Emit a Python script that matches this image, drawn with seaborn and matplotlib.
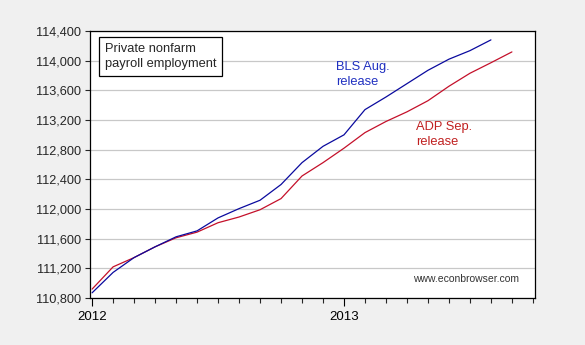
import matplotlib
matplotlib.use("Agg")
import matplotlib.pyplot as plt
import seaborn as sns
import pandas as pd
from matplotlib.ticker import FuncFormatter, FixedLocator

# ---- data (thousands, private nonfarm payroll employment) ----
months = pd.date_range("2012-01-01", "2013-10-01", freq="MS")
bls_aug = [110870, 111145, 111345, 111490, 111625, 111705, 111880, 112005,
           112118, 112330, 112625, 112845, 113000, 113340, 113510, 113690,
           113870, 114020, 114135, 114280]
adp_sep = [110920, 111220, 111345, 111490, 111612, 111688, 111815, 111892,
           111990, 112140, 112445, 112625, 112820, 113030, 113180, 113310,
           113460, 113655, 113830, 113972, 114118]
year_labels = ["2012", "2013"]
yticks = [110800, 111200, 111600, 112000, 112400, 112800, 113200, 113600, 114000, 114400]

rows = []
for i, v in enumerate(bls_aug):
    rows.append({"t": i, "month": months[i], "value": v, "series": "BLS Aug. release"})
for i, v in enumerate(adp_sep):
    rows.append({"t": i, "month": months[i], "value": v, "series": "ADP Sep. release"})
df = pd.DataFrame(rows)

sns.set_style("ticks")
plt.rcParams["font.family"] = ["Liberation Sans", "DejaVu Sans"]

fig = plt.figure(figsize=(5.85, 3.45), dpi=100)
fig.patch.set_facecolor("#F0F0F0")
ax = fig.add_axes([90 / 585, 1 - 298 / 345, 445 / 585, 267 / 345])
ax.set_facecolor("white")

blue = "#0A0A9E"
red = "#C4102A"
sns.lineplot(data=df, x="t", y="value", hue="series",
             palette={"BLS Aug. release": blue, "ADP Sep. release": red},
             hue_order=["ADP Sep. release", "BLS Aug. release"],
             linewidth=0.9, legend=False, ax=ax)

ax.set_xlim(-0.1, 21.1)
ax.set_ylim(110800, 114400)
ax.set_yticks(yticks)
ax.yaxis.set_major_formatter(FuncFormatter(lambda v, p: f"{int(v):,}"))
ax.yaxis.grid(True, color="#C8C8C8", linewidth=0.9)
ax.set_axisbelow(True)

ax.xaxis.set_major_locator(FixedLocator([0, 12]))
ax.set_xticklabels(year_labels)
ax.xaxis.set_minor_locator(FixedLocator([i for i in range(22) if i not in (0, 12)]))
ax.tick_params(axis="x", which="major", length=5.5, width=0.8, pad=3.5, labelsize=9.5, colors="black")
ax.tick_params(axis="x", which="minor", length=3.5, width=0.8)
ax.tick_params(axis="y", length=3.6, width=0.8, pad=3, labelsize=9.2)
ax.set_xlabel("")
ax.set_ylabel("")
for s in ax.spines.values():
    s.set_visible(True)
    s.set_color("black")
    s.set_linewidth(0.9)

ax.text((105 - 90) / 445, (298 - 43) / 267, "Private nonfarm\npayroll employment",
        transform=ax.transAxes, ha="left", va="top", fontsize=9.3, linespacing=1.35,
        bbox=dict(boxstyle="square,pad=0.45", facecolor="white", edgecolor="black", linewidth=0.9))
ax.text((336 - 90) / 445, (298 - 61) / 267, "BLS Aug.\nrelease", transform=ax.transAxes,
        ha="left", va="top", fontsize=9.3, color="#2030C0", linespacing=1.35)
ax.text((416 - 90) / 445, (298 - 121) / 267, "ADP Sep.\nrelease", transform=ax.transAxes,
        ha="left", va="top", fontsize=9.3, color="#C02020", linespacing=1.35)
ax.text((519 - 90) / 445, (298 - 279) / 267, "www.econbrowser.com", transform=ax.transAxes,
        ha="right", va="center", fontsize=7.5, color="#333333")

fig.savefig("out.png", dpi=100, facecolor=fig.get_facecolor())
